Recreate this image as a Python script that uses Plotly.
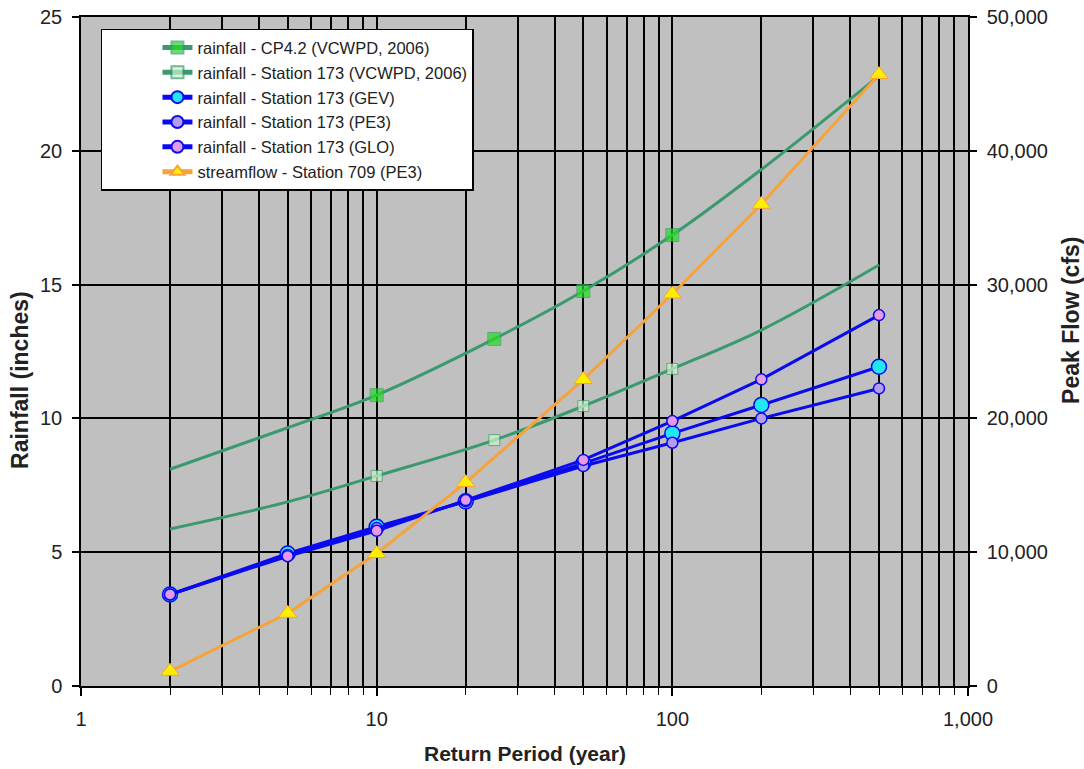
import plotly.graph_objects as go

# Return periods (years)
T_cp = [2, 5, 10, 25, 50, 100, 200, 500]
cp42 = [8.1, 9.65, 10.87, 12.97, 14.76, 16.85, 19.3, 22.8]
cp42_marked = [False, False, True, True, True, True, False, False]

T_st = [2, 5, 10, 25, 50, 100, 200, 500]
st173_vcwpd = [5.87, 6.88, 7.85, 9.19, 10.46, 11.85, 13.3, 15.73]
st173_marked = [False, False, True, True, True, True, False, False]

T_fit = [2, 5, 10, 20, 50, 100, 200, 500]
gev = [3.42, 4.95, 5.95, 6.9, 8.32, 9.44, 10.5, 11.93]
pe3 = [3.42, 4.9, 5.9, 6.9, 8.22, 9.09, 10.0, 11.12]
glo = [3.42, 4.85, 5.8, 6.95, 8.45, 9.9, 11.46, 13.86]

T_flow = [2, 5, 10, 20, 50, 100, 200, 500]
streamflow = [1100, 5430, 9900, 15200, 22900, 29300, 36000, 45700]

x_tickvals = [1, 10, 100, 1000]
x_ticktext = ["1", "10", "100", "1,000"]

GREEN = "#3a9a6e"
BLUE = "#0a0af0"
ORANGE = "#f5a33a"
FONT = "Liberation Sans, Arial, sans-serif"

fig = go.Figure()

fig.add_trace(go.Scatter(
    x=T_cp, y=cp42, mode="lines+markers", name="rainfall - CP4.2 (VCWPD, 2006)",
    line=dict(color=GREEN, width=3, shape="spline"),
    marker=dict(symbol="square", size=[13 if m else 0 for m in cp42_marked],
                color="#22dd22", line=dict(color=GREEN, width=1)),
    legendgroup="a"))
fig.add_trace(go.Scatter(
    x=T_st, y=st173_vcwpd, mode="lines+markers", name="rainfall - Station 173 (VCWPD, 2006)",
    line=dict(color=GREEN, width=3, shape="spline"),
    marker=dict(symbol="square", size=[11 if m else 0 for m in st173_marked],
                color="#ccf5cc", line=dict(color=GREEN, width=1)),
    legendgroup="b"))
fig.add_trace(go.Scatter(
    x=T_fit, y=gev, mode="lines+markers", name="rainfall - Station 173 (GEV)",
    line=dict(color=BLUE, width=3),
    marker=dict(symbol="circle", size=15, color="#22e6f5", line=dict(color=BLUE, width=1.5)),
    legendgroup="c"))
fig.add_trace(go.Scatter(
    x=T_fit, y=pe3, mode="lines+markers", name="rainfall - Station 173 (PE3)",
    line=dict(color=BLUE, width=3),
    marker=dict(symbol="circle", size=11, color="#b49cf0", line=dict(color=BLUE, width=1.5)),
    legendgroup="d"))
fig.add_trace(go.Scatter(
    x=T_fit, y=glo, mode="lines+markers", name="rainfall - Station 173 (GLO)",
    line=dict(color=BLUE, width=3),
    marker=dict(symbol="circle", size=11, color="#e49ae6", line=dict(color=BLUE, width=1.5)),
    legendgroup="e"))
fig.add_trace(go.Scatter(
    x=T_flow, y=streamflow, mode="lines+markers", name="streamflow - Station 709 (PE3)",
    yaxis="y2",
    line=dict(color=ORANGE, width=3),
    marker=dict(symbol="triangle-up", size=16, color="#ffee00", line=dict(color=ORANGE, width=1)),
    legendgroup="f"))

axis_font = dict(family=FONT, size=20, color="#222")
xtitle_font = dict(family=FONT, size=21, color="#222")
ytitle_font = dict(family=FONT, size=23, color="#222")

fig.update_layout(
    width=1084, height=769,
    margin=dict(l=81, r=116, t=17, b=83),
    paper_bgcolor="white",
    plot_bgcolor="#c0c0c0",
    showlegend=True,
    legend=dict(x=0.0225, y=0.9825, xanchor="left", yanchor="top",
                bgcolor="white", bordercolor="black", borderwidth=1.5,
                font=dict(family=FONT, size=16.5, color="#222"),
                traceorder="grouped", tracegroupgap=0.4, itemsizing="constant",
                indentation=55),
    xaxis=dict(type="log", range=[0, 3], tickvals=x_tickvals, ticktext=x_ticktext,
               showgrid=True, gridcolor="black", gridwidth=1.5,
               ticks="outside", ticklen=8, tickcolor="black", tickwidth=1.5,
               ticklabelstandoff=6, automargin=False,
               minor=dict(dtick="D1", showgrid=True, gridcolor="black", gridwidth=1.5,
                          ticks="outside", ticklen=7, tickcolor="black", tickwidth=1),
               showline=True, linecolor="black", linewidth=1.5, mirror=True,
               tickfont=axis_font, zeroline=False),
    yaxis=dict(range=[0, 25], dtick=5, showgrid=True, gridcolor="black", gridwidth=1.5,
               ticks="outside", ticklen=7, tickcolor="black", tickwidth=1.5,
               ticklabelstandoff=6, automargin=False,
               showline=True, linecolor="black", linewidth=1.5, mirror=True,
               tickfont=axis_font, zeroline=False),
    yaxis2=dict(range=[0, 50000], dtick=10000, overlaying="y", side="right",
                tickformat=",d", showgrid=False, zeroline=False,
                ticks="outside", ticklen=7, tickcolor="black", tickwidth=1.5,
                ticklabelstandoff=6, automargin=False,
                showline=True, linecolor="black", linewidth=1.5,
                tickfont=axis_font),
    annotations=[
        dict(text="<b>Return Period (year)</b>", showarrow=False,
             xref="paper", yref="paper", x=0.5, y=-0.1016,
             xanchor="center", yanchor="middle", font=xtitle_font),
        dict(text="<b>Rainfall (inches)</b>", textangle=-90, showarrow=False,
             xref="paper", yref="paper", x=-0.068, y=0.457,
             xanchor="center", yanchor="middle", font=ytitle_font),
        dict(text="<b>Peak Flow (cfs)</b>", textangle=-90, showarrow=False,
             xref="paper", yref="paper", x=1.116, y=0.547,
             xanchor="center", yanchor="middle", font=ytitle_font),
    ],
)

fig.write_html("out.html")
